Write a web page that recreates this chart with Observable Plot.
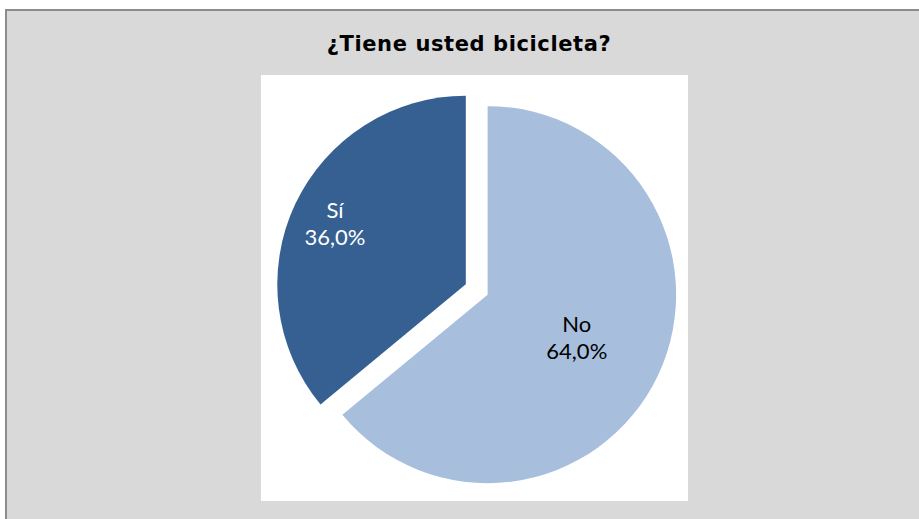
<!DOCTYPE html>
<html>
<head>
<meta charset="utf-8">
<script src="https://cdn.jsdelivr.net/npm/d3@7"></script>
<script src="https://cdn.jsdelivr.net/npm/@observablehq/plot@0.6"></script>
<style>
  html, body { margin: 0; padding: 0; background: #ffffff; }
  #frame {
    position: absolute; left: 5px; top: 9px; width: 940px; height: 540px;
    background: #d9d9d9; border: 2px solid #8c8c8c; box-sizing: border-box;
  }
  #title {
    position: absolute; left: 0; top: 21px; width: 940px; text-align: center;
    font-family: "DejaVu Sans", sans-serif; font-weight: bold; font-size: 21px; color: #000;
    letter-spacing: 0.6px; transform: translateX(-8px);
  }
  #chart { position: absolute; left: 254px; top: 64px; }
  #chart svg { display: block; background: #ffffff; }
</style>
</head>
<body>
<div id="frame">
  <div id="title">¿Tiene usted bicicleta?</div>
  <div id="chart"></div>
</div>
<script>
const categories = ["No", "Sí"];
const values = [64.0, 36.0];
const valueLabels = ["64,0%", "36,0%"];
const colors = ["#a7bedd", "#366092"];
const labelColors = ["#000000", "#ffffff"];

const data = categories.map((c, i) => ({category: c, value: values[i], label: valueLabels[i]}));

const pie = d3.pie().value(d => d.value).sort(null)(data);
const explode = 0.064;          // in radius units
const labelRadius = {"No": 0.52, "Sí": 0.77};

const slices = pie.map(p => {
  const mid = (p.startAngle + p.endAngle) / 2;
  const dx = Math.sin(mid), dy = Math.cos(mid);
  const lr = labelRadius[p.data.category];
  return {
    ...p.data,
    startAngle: p.startAngle,
    endAngle: p.endAngle,
    ox: explode * dx, oy: explode * dy,
    lx: explode * dx + lr * dx, ly: explode * dy + lr * dy,
    text: p.data.category + "\n" + p.data.label
  };
});

const W = 427, H = 426;
const cx = 215.7, cy = 214.5, R = 188.5;

const pieMark = (index, scales) => {
  const g = d3.create("svg:g");
  const r = scales.x(1) - scales.x(0);
  const arc = d3.arc().innerRadius(0).outerRadius(r);
  slices.forEach((s, i) => {
    g.append("path")
      .attr("d", arc({startAngle: s.startAngle, endAngle: s.endAngle}))
      .attr("transform", `translate(${scales.x(s.ox)},${scales.y(s.oy)})`)
      .attr("fill", colors[i]);
  });
  return g.node();
};

const plot = Plot.plot({
  width: W, height: H,
  margin: 0,
  x: {domain: [-1, 1], range: [cx - R, cx + R], axis: null},
  y: {domain: [-1, 1], range: [cy + R, cy - R], axis: null},
  style: {background: "#ffffff"},
  marks: [
    pieMark,
    Plot.text(slices, {
      x: "lx", y: "ly", text: "text",
      fill: (d) => labelColors[categories.indexOf(d.category)],
      fontSize: 22, lineHeight: 1.2,
      fontFamily: "Lato, 'Open Sans', sans-serif",
      letterSpacing: 0.6
    })
  ]
});
document.getElementById("chart").appendChild(plot);
</script>
</body>
</html>
